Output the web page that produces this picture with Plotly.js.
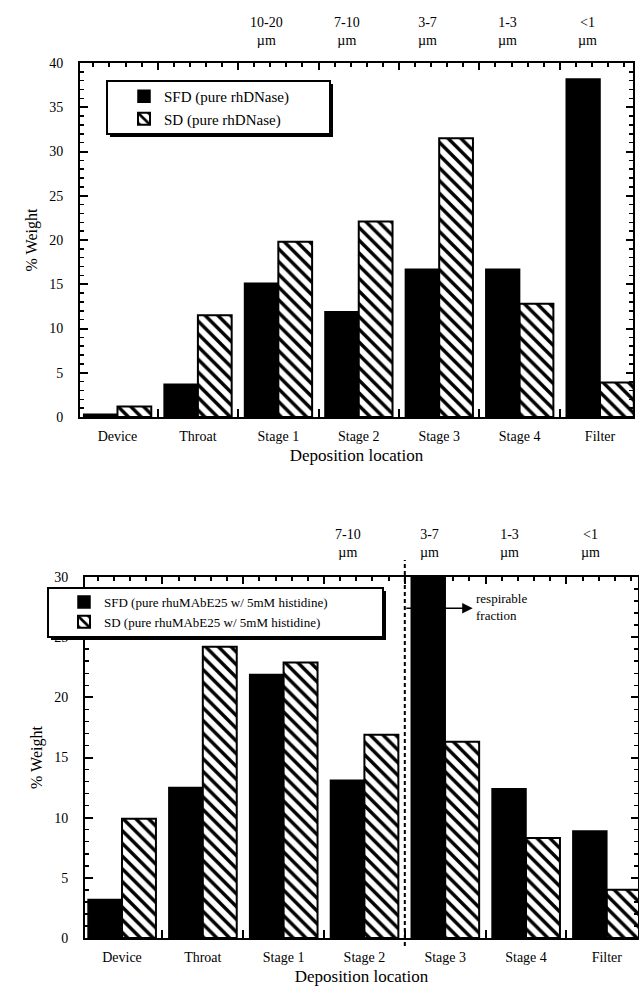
<!DOCTYPE html>
<html>
<head>
<meta charset="utf-8">
<script src="https://cdn.plot.ly/plotly-3.0.1.min.js"></script>
<style>html,body{margin:0;padding:0;background:#fff;}#chart{width:639px;height:990px;}</style>
</head>
<body>
<div id="chart"></div>
<script>
// ---------- data ----------
const categories = ["Device", "Throat", "Stage 1", "Stage 2", "Stage 3", "Stage 4", "Filter"];
const catIndex = [0, 1, 2, 3, 4, 5, 6];

// Top panel: pure rhDNase
const topSFD = [0.3, 3.7, 15.1, 11.9, 16.7, 16.7, 38.2];
const topSD  = [1.2, 11.5, 19.8, 22.1, 31.5, 12.8, 3.9];
const topNames = ["SFD (pure rhDNase)", "SD (pure rhDNase)"];

// Bottom panel: rhuMAbE25 w/ 5mM histidine
const botSFD = [3.2, 12.5, 21.9, 13.1, 30.5, 12.4, 8.9];
const botSD  = [9.9, 24.2, 22.9, 16.9, 16.3, 8.3, 4.0];
const botNames = ["SFD (pure rhuMAbE25 w/ 5mM histidine)", "SD (pure rhuMAbE25 w/ 5mM histidine)"];

// particle size cut-off labels above stages
const topSizeLabels = ["10-20", "7-10", "3-7", "1-3", "<1"];
const topSizeCats   = [2, 3, 4, 5, 6];
const botSizeLabels = ["7-10", "3-7", "1-3", "<1"];
const botSizeCats   = [3, 4, 5, 6];
const sizeUnit = "\u00b5m";
const respirableText = "respirable<br>fraction";

// ---------- styles ----------
const FONT = "Liberation Serif, Times New Roman, serif";
const H = 990, W = 639;
const py = p => (H - p) / H;   // pixel row -> paper
const px = p => p / W;

function solidBar(x, y, name, xa, ya, leg) {
  return {type: "bar", x: x, y: y, name: name, xaxis: xa, yaxis: ya, legend: leg,
    marker: {color: "#000", line: {color: "#000", width: 1.5}}};
}
function hatchBar(x, y, name, xa, ya, leg) {
  return {type: "bar", x: x, y: y, name: name, xaxis: xa, yaxis: ya, legend: leg,
    marker: {color: "#fff", line: {color: "#000", width: 2},
      pattern: {shape: "\\", fgcolor: "#000", bgcolor: "#fff", size: 9, solidity: 0.38}}};
}
// invisible carrier so that the mirrored (top/right) tick axes are drawn
function carrier(x, y, xa, ya) {
  return {type: "scatter", mode: "markers", x: x, y: y, xaxis: xa, yaxis: ya,
    marker: {opacity: 0, size: 1}, showlegend: false, hoverinfo: "skip"};
}

const data = [
  solidBar(catIndex, topSFD, topNames[0], "x", "y", "legend"),
  hatchBar(catIndex, topSD, topNames[1], "x", "y", "legend"),
  solidBar(catIndex, botSFD, botNames[0], "x2", "y2", "legend2"),
  hatchBar(catIndex, botSD, botNames[1], "x2", "y2", "legend2"),
  carrier(catIndex, topSD, "x3", "y3"),
  carrier(catIndex, botSD, "x4", "y4")
];

const tickFont = {family: FONT, size: 14, color: "#000"};

const topXRange = [-0.466, 6.41];
const botXRange = [-0.458, 6.386];
const topXDom = [px(80), px(633)];
const botXDom = [px(85), px(638)];
const topYDom = [py(417), py(63)];
const botYDom = [py(938), py(577)];

function base() {
  return {showline: true, linecolor: "#000", linewidth: 2, zeroline: false, showgrid: false};
}
function catAxis(dom, anchor, range) {
  const a = base();
  a.domain = dom; a.anchor = anchor; a.range = range;
  a.tickmode = "array"; a.tickvals = catIndex; a.ticktext = categories;
  a.ticks = "outside"; a.ticklen = 0; a.tickfont = tickFont; a.ticklabelstandoff = 5;
  a.minor = {tickmode: "linear", tick0: 0.5, dtick: 1, ticks: "inside", ticklen: 8, tickwidth: 2, tickcolor: "#000"};
  a.title = {text: "Deposition location", font: {family: FONT, size: 17, color: "#000"}, standoff: 6};
  return a;
}
function topAxis(over, anchor, range) {
  const a = base();
  a.overlaying = over; a.anchor = anchor; a.side = "top"; a.range = range;
  a.tickmode = "linear"; a.tick0 = 0.5; a.dtick = 1;
  a.ticks = "inside"; a.ticklen = 7; a.tickwidth = 2; a.tickcolor = "#000";
  a.showticklabels = false;
  a.minor = {tickmode: "linear", tick0: 0.5, dtick: 0.2, ticks: "inside", ticklen: 4, tickwidth: 2, tickcolor: "#000"};
  return a;
}
function valAxis(dom, anchor, range) {
  const a = base();
  a.domain = dom; a.anchor = anchor; a.range = range;
  a.tickmode = "linear"; a.tick0 = 0; a.dtick = 5;
  a.ticks = "inside"; a.ticklen = 8; a.tickwidth = 2; a.tickcolor = "#000"; a.tickfont = tickFont;
  a.ticklabelstandoff = 12;
  a.minor = {tickmode: "linear", dtick: 1, ticks: "inside", ticklen: 4, tickwidth: 1.5, tickcolor: "#000"};
  a.title = {text: "% Weight", font: {family: FONT, size: 16, color: "#000"}, standoff: 8};
  return a;
}
function rightAxis(over, anchor, range) {
  const a = base();
  a.overlaying = over; a.anchor = anchor; a.side = "right"; a.range = range;
  a.tickmode = "linear"; a.tick0 = 0; a.dtick = 5;
  a.ticks = "inside"; a.ticklen = 7; a.tickwidth = 2; a.tickcolor = "#000"; a.showticklabels = false;
  a.minor = {tickmode: "linear", dtick: 1, ticks: "inside", ticklen: 4, tickwidth: 1.5, tickcolor: "#000"};
  return a;
}

const annotations = [];
topSizeLabels.forEach((t, i) => {
  annotations.push({xref: "x", yref: "paper", x: topSizeCats[i] - 0.15, y: py(32),
    text: t + "<br>" + sizeUnit, showarrow: false, xanchor: "center", yanchor: "middle",
    font: {family: FONT, size: 14, color: "#000"}});
});
botSizeLabels.forEach((t, i) => {
  annotations.push({xref: "x2", yref: "paper", x: botSizeCats[i] - 0.2, y: py(543),
    text: t + "<br>" + sizeUnit, showarrow: false, xanchor: "center", yanchor: "middle",
    font: {family: FONT, size: 14, color: "#000"}});
});
// respirable fraction arrow
annotations.push({xref: "x2", yref: "y2", axref: "x2", ayref: "y2", x: 4.34, y: 27.4, ax: 3.5, ay: 27.4,
  text: "", showarrow: true, arrowhead: 2, arrowsize: 1.4, arrowwidth: 1.5, arrowcolor: "#000", standoff: 0, startstandoff: 0});
annotations.push({xref: "x2", yref: "y2", x: 4.36, y: 27.5, text: respirableText, showarrow: false,
  xanchor: "left", yanchor: "middle", align: "left", font: {family: FONT, size: 13, color: "#000"}});

// legend frames (box with drop shadow), pixel boxes
function frame(x0, y0, x1, y1) {
  return [
    {type: "rect", xref: "paper", yref: "paper", layer: "above", x0: px(x0 + 3), x1: px(x1 + 3), y0: py(y1 + 3), y1: py(y0 + 3),
     fillcolor: "#000", line: {width: 0}},
    {type: "rect", xref: "paper", yref: "paper", layer: "above", x0: px(x0), x1: px(x1), y0: py(y1), y1: py(y0),
     fillcolor: "#fff", line: {color: "#000", width: 2}}
  ];
}

const shapes = [
  {type: "line", xref: "x2", yref: "paper", x0: 3.5, x1: 3.5, y0: py(946), y1: py(560),
   line: {color: "#000", width: 2, dash: "4px,3px"}}
].concat(frame(107, 81, 330, 134)).concat(frame(48, 588, 383, 637));

const layout = {
  width: W, height: H, margin: {l: 0, r: 0, t: 0, b: 0},
  paper_bgcolor: "#fff", plot_bgcolor: "rgba(0,0,0,0)",
  barmode: "group", bargap: 0.16, bargroupgap: 0,
  font: {family: FONT, color: "#000"},
  xaxis: catAxis(topXDom, "y", topXRange),
  xaxis3: topAxis("x", "y", topXRange),
  yaxis: valAxis(topYDom, "x", [0, 40]),
  yaxis3: rightAxis("y", "x", [0, 40]),
  xaxis2: catAxis(botXDom, "y2", botXRange),
  xaxis4: topAxis("x2", "y2", botXRange),
  yaxis2: valAxis(botYDom, "x2", [0, 30]),
  yaxis4: rightAxis("y2", "x2", [0, 30]),
  legend: {x: px(124), y: py(80), xanchor: "left", yanchor: "top", bgcolor: "rgba(0,0,0,0)",
    borderwidth: 0, font: {family: FONT, size: 15, color: "#000"},
    itemwidth: 30, tracegroupgap: 0},
  legend2: {x: px(64), y: py(587), xanchor: "left", yanchor: "top", bgcolor: "rgba(0,0,0,0)",
    borderwidth: 0, font: {family: FONT, size: 13, color: "#000"},
    itemwidth: 30, tracegroupgap: 0},
  showlegend: true,
  annotations: annotations,
  shapes: shapes
};

Plotly.newPlot("chart", data, layout, {staticPlot: true, displayModeBar: false});
</script>
</body>
</html>
